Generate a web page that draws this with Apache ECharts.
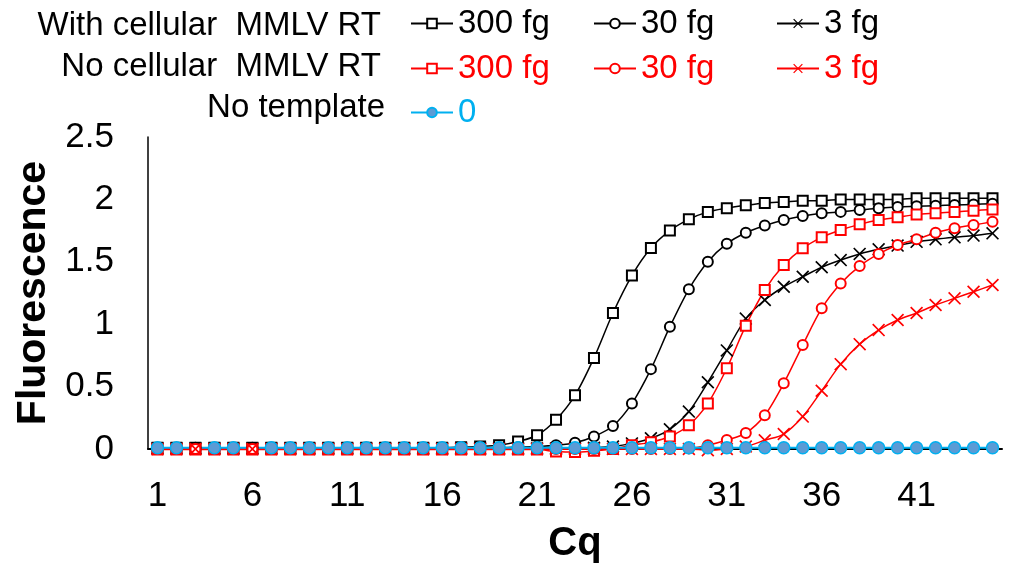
<!DOCTYPE html>
<html>
<head>
<meta charset="utf-8">
<script src="https://cdn.jsdelivr.net/npm/echarts@6/dist/echarts.min.js"></script>
<style>
  html, body { margin: 0; padding: 0; background: #fff; }
  #chart { width: 1011px; height: 571px; }
</style>
</head>
<body>
<div id="chart"></div>
<script>
// Amplification curves: fluorescence per PCR cycle
const cycles = Array.from({ length: 45 }, (_, i) => String(i + 1));

const withRT300 = [0.01, 0.01, 0.01, 0.01, 0.01, 0.01, 0.01, 0.01, 0.01, 0.01, 0.01, 0.01, 0.01, 0.01, 0.01, 0.01, 0.015, 0.02, 0.03, 0.06,
  0.11, 0.235, 0.43, 0.73, 1.09, 1.39, 1.61, 1.75, 1.84, 1.9, 1.93, 1.953, 1.972, 1.98, 1.99, 1.99, 2.0, 2.0, 2.0, 2.0,
  2.01, 2.01, 2.01, 2.01, 2.01];
const withRT30 = [0.01, 0.01, 0.01, 0.01, 0.01, 0.01, 0.01, 0.01, 0.01, 0.01, 0.01, 0.01, 0.01, 0.01, 0.01, 0.01, 0.01, 0.01, 0.01, 0.015,
  0.02, 0.03, 0.05, 0.1, 0.184, 0.365, 0.64, 0.98, 1.28, 1.5, 1.645, 1.733, 1.79, 1.835, 1.867, 1.889, 1.9, 1.915, 1.93, 1.94,
  1.945, 1.95, 1.955, 1.96, 1.965];
const withRT3 = [0.005, 0.005, 0.005, 0.005, 0.005, 0.005, 0.005, 0.005, 0.005, 0.005, 0.005, 0.005, 0.005, 0.005, 0.005, 0.005, 0.005, 0.005, 0.005, 0.005,
  0.005, 0.005, 0.005, 0.01, 0.02, 0.045, 0.086, 0.158, 0.3, 0.535, 0.79, 1.045, 1.194, 1.3, 1.38, 1.456, 1.514, 1.563, 1.6, 1.63,
  1.66, 1.68, 1.696, 1.71, 1.728];
const noRT300 = [-0.005, -0.005, -0.005, -0.005, -0.005, -0.005, -0.005, -0.005, -0.005, -0.005, -0.005, -0.005, -0.005, -0.005, -0.005, -0.005, -0.005, -0.005, -0.005, -0.005,
  -0.005, -0.02, -0.025, -0.015, 0.0, 0.03, 0.055, 0.1, 0.19, 0.365, 0.647, 0.988, 1.274, 1.474, 1.608, 1.696, 1.755, 1.8, 1.835, 1.857,
  1.88, 1.89, 1.9, 1.91, 1.92];
const noRT30 = [0, 0, 0, 0, 0, 0, 0, 0, 0, 0, 0, 0, 0, 0, 0, 0, 0, 0, 0, 0,
  0, 0, 0, 0, 0, 0, 0, 0, 0.005, 0.03, 0.072, 0.128, 0.27, 0.526, 0.833, 1.127, 1.327, 1.466, 1.563, 1.635,
  1.68, 1.733, 1.768, 1.795, 1.82];
const noRT3 = [0, 0, 0, 0, 0, 0, 0, 0, 0, 0, 0, 0, 0, 0, 0, 0, 0, 0, 0, 0,
  0, 0, 0, 0, 0, 0, 0, 0, 0, -0.01, 0, 0.02, 0.07, 0.12, 0.26, 0.467, 0.68, 0.84, 0.953, 1.034,
  1.09, 1.154, 1.207, 1.26, 1.314];
const noTemplate = [0.01, 0.01, 0.01, 0.01, 0.01, 0.01, 0.01, 0.01, 0.01, 0.01, 0.01, 0.01, 0.01, 0.01, 0.01, 0.01, 0.01, 0.01, 0.01, 0.01,
  0.01, 0.01, 0.01, 0.01, 0.01, 0.01, 0.01, 0.01, 0.01, 0.01, 0.01, 0.01, 0.01, 0.01, 0.01, 0.01, 0.01, 0.01, 0.01, 0.01,
  0.01, 0.01, 0.01, 0.01, 0.01];
// cycles where the no-template marker is left out
const noTemplateHidden = [3, 6];

const groupLabels = ['With cellular  MMLV RT', 'No cellular  MMLV RT', 'No template'];
const amountLabels = ['300 fg', '30 fg', '3 fg', '0'];

const FONT = '"Liberation Sans", Arial, sans-serif';
const BLACK = '#000000';
const RED = '#ff0000';
const BLUE_LINE = '#00b0f0';
const BLUE_FILL = '#5b9bd5';
// thin diagonal cross marker (filled outline, no stroke)
const CROSS = 'path://M0,1.8L1.8,0L10,8.2L18.2,0L20,1.8L11.8,10L20,18.2L18.2,20L10,11.8L1.8,20L0,18.2L8.2,10Z';

function curve(name, data, color, symbol, size, border) {
  return {
    name, type: 'line', data, symbol, symbolSize: size, showAllSymbol: true,
    smooth: 0.3, clip: false, animation: false,
    lineStyle: { color, width: 1.5 },
    itemStyle: { color, borderColor: color, borderWidth: border },
    emphasis: { disabled: true }
  };
}

const series = [
  curve('w300', withRT300, BLACK, 'emptyRect', 10, 1.5),
  curve('w30', withRT30, BLACK, 'emptyCircle', 10, 1.5),
  curve('w3', withRT3, BLACK, CROSS, 13, 0),
  curve('n300', noRT300, RED, 'emptyRect', 10, 1.5),
  curve('n30', noRT30, RED, 'emptyCircle', 10, 1.5),
  curve('n3', noRT3, RED, CROSS, 13, 0),
  {
    name: 'nt', type: 'line', smooth: 0.3, clip: false, animation: false, showAllSymbol: true,
    data: noTemplate.map((v, i) => noTemplateHidden.includes(i + 1) ? { value: v, symbol: 'none' } : v),
    symbol: 'circle', symbolSize: 12,
    lineStyle: { color: BLUE_LINE, width: 2 },
    itemStyle: { color: BLUE_FILL, borderColor: BLUE_LINE, borderWidth: 1.5 },
    emphasis: { disabled: true }
  }
];

// legend entries: [series name, label, text colour, left, top]
const colX = [410, 593, 776];
const rowTop = [7, 52, 96];
const legendItems = [
  ['w300', amountLabels[0], BLACK, colX[0], rowTop[0]],
  ['w30', amountLabels[1], BLACK, colX[1], rowTop[0]],
  ['w3', amountLabels[2], BLACK, colX[2], rowTop[0]],
  ['n300', amountLabels[0], RED, colX[0], rowTop[1]],
  ['n30', amountLabels[1], RED, colX[1], rowTop[1]],
  ['n3', amountLabels[2], RED, colX[2], rowTop[1]],
  ['nt', amountLabels[3], BLUE_LINE, colX[0], rowTop[2]]
];
const legends = legendItems.map(([name, label, color, left, top]) => ({
  left, top, padding: 0, itemWidth: 42, itemHeight: 12, itemGap: 0,
  selectedMode: false,
  data: [{ name }],
  formatter: () => label,
  textStyle: { fontSize: 33, fontFamily: FONT, color }
}));

const rowLabelY = [26, 67, 108];
const rowLabelX = [381, 381, 385];
const graphics = groupLabels.map((text, i) => ({
  type: 'text', x: rowLabelX[i], y: rowLabelY[i], silent: true,
  style: { text, align: 'right', verticalAlign: 'middle', fontSize: 33, fontFamily: FONT, fill: '#000' }
}));

const chart = echarts.init(document.getElementById('chart'), null, { renderer: 'canvas' });
chart.setOption({
  backgroundColor: '#fff',
  animation: false,
  legend: legends,
  graphic: graphics,
  grid: { left: 148, right: 9, top: 137, bottom: 122, containLabel: false },
  xAxis: {
    type: 'category', data: cycles, boundaryGap: true,
    name: 'Cq', nameLocation: 'middle', nameGap: 75,
    nameTextStyle: { fontSize: 40, fontWeight: 'bold', fontFamily: FONT, color: '#000' },
    axisLine: { lineStyle: { color: '#000', width: 2 } },
    axisTick: { show: false },
    axisLabel: { interval: 4, fontSize: 35, fontFamily: FONT, color: '#000', margin: 30 },
    splitLine: { show: false }
  },
  yAxis: {
    type: 'value', min: 0, max: 2.5, interval: 0.5,
    name: 'Fluorescence', nameLocation: 'middle', nameGap: 93, nameRotate: 90,
    nameTextStyle: { fontSize: 41, fontWeight: 'bold', fontFamily: FONT, color: '#000' },
    axisLine: { show: true, lineStyle: { color: '#000', width: 1.5 } },
    axisTick: { show: false },
    axisLabel: { fontSize: 35, fontFamily: FONT, color: '#000', margin: 34 },
    splitLine: { show: false }
  },
  series
});
</script>
</body>
</html>
